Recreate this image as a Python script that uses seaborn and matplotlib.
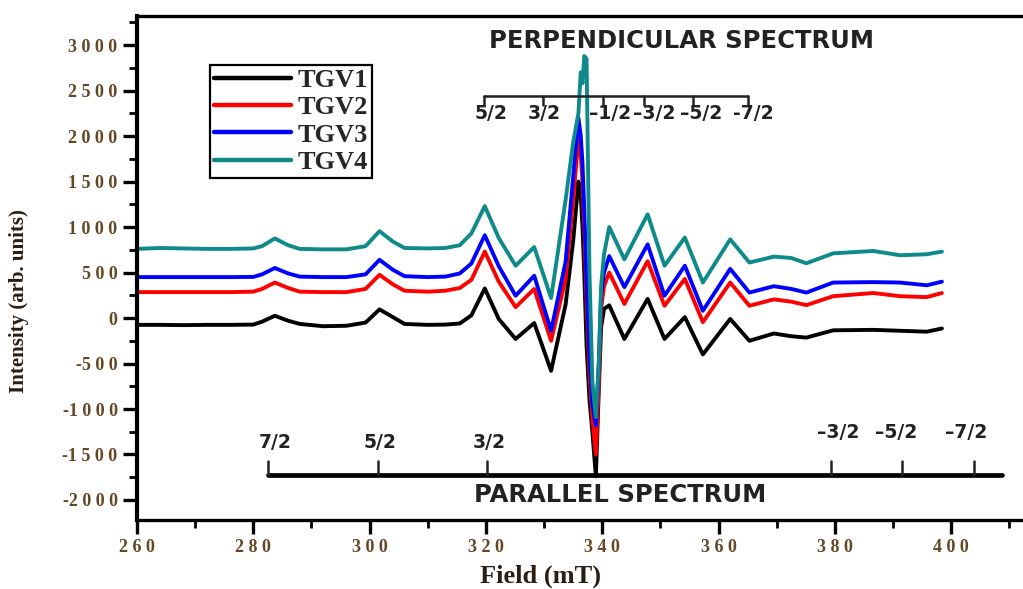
import matplotlib
matplotlib.use('Agg')
import matplotlib.pyplot as plt
from matplotlib.ticker import MultipleLocator, FuncFormatter
import seaborn as sns

sns.set_theme(style='white')
plt.rcParams['font.family'] = ['Liberation Serif', 'DejaVu Serif']

# EPR spectra: field in mT, intensity in arb. units
field = [260, 264, 268, 272, 276, 280, 281.5, 283.7, 286, 288, 292, 296, 299.3, 301.7,
         304, 306, 310, 313, 315.5, 317.5, 319.8, 322.2, 325.1, 328.3, 331.2, 333.7,
         335.0, 335.9, 336.3, 336.6, 336.9, 337.3, 337.8, 338.3, 338.9, 339.4, 339.8,
         340.3, 341.2, 343.8, 347.8, 350.7, 354.2, 357.3, 362.0, 365.3, 369.5, 372.5,
         375.1, 379.7, 386.6, 391.2, 395.8, 398.4]

tgv1 = [-75, -75, -78, -75, -75, -72, -40, 25, -30, -65, -90, -85, -50, 95,
        10, -65, -75, -72, -60, 30, 325, -10, -230, -55, -580, 150,
        850, 1500, 1350, 1000, 500, -300, -900, -1250, -1740, -800, -100,
        100, 140, -230, 210, -230, 10, -400, -10, -250, -170, -200,
        -215, -135, -130, -140, -150, -115]

tgv2 = [285, 285, 285, 285, 285, 290, 320, 390, 330, 290, 285, 285, 320, 475,
        370, 300, 290, 300, 330, 420, 730, 400, 120, 320, -250, 430,
        1300, 1980, 1800, 1500, 1000, 200, -600, -1100, -1500, -700, 100,
        350, 500, 155, 625, 135, 430, -45, 390, 135, 205, 180,
        142, 240, 275, 240, 230, 275]

tgv3 = [450, 450, 450, 450, 450, 452, 480, 550, 490, 455, 450, 450, 480, 640,
        530, 460, 450, 455, 490, 600, 910, 570, 245, 465, -140, 620,
        1550, 2200, 2000, 1700, 1200, 400, -400, -950, -1180, -500, 250,
        500, 680, 340, 810, 245, 575, 80, 540, 280, 350, 320,
        280, 390, 395, 390, 360, 400]

tgv4 = [760, 770, 765, 760, 760, 765, 790, 875, 800, 760, 755, 755, 790, 955,
        840, 770, 765, 770, 800, 930, 1230, 880, 575, 780, 220, 1300,
        1930, 2250, 2700, 2580, 2880, 2850, 500, -700, -1090, -500, 355,
        700, 1000, 645, 1140, 575, 885, 390, 865, 610, 675, 660,
        602, 711, 737, 690, 701, 730]

series = {'TGV1': tgv1, 'TGV2': tgv2, 'TGV3': tgv3, 'TGV4': tgv4}
colors = {'TGV1': 'black', 'TGV2': '#ff0000', 'TGV3': '#0000ff', 'TGV4': '#0f8a8a'}

# hyperfine line positions (mT) marked on the two stick diagrams
perp_ticks = [319.7, 329.8, 340.1, 347.1, 355.6, 365.1]
perp_label_x = [320.8, 330.0, 341.3, 348.9, 357.0, 366.0]
perp_labels = ['5/2', '3/2', '\u20131/2', '\u20133/2', '\u20135/2', '-7/2']
par_ticks = [282.6, 301.4, 320.2, 379.4, 391.5, 404.0]
par_label_x = [283.8, 301.8, 320.6, 380.6, 390.6, 402.6]
par_labels = ['7/2', '5/2', '3/2', '\u20133/2', '\u20135/2', '\u20137/2']

fig = plt.figure(figsize=(10.23, 5.89), dpi=100)
ax = fig.add_axes([137/1023, 69/589, 884/1023, 504/589])

for name, vals in series.items():
    sns.lineplot(x=field, y=vals, ax=ax, color=colors[name], lw=2.8,
                 label=name, sort=False, estimator=None)

ax.set_xlim(260, 412)
ax.set_ylim(-2220, 3320)
ax.xaxis.set_major_locator(MultipleLocator(20))
ax.xaxis.set_minor_locator(MultipleLocator(10))
ax.yaxis.set_major_locator(MultipleLocator(500))
ax.yaxis.set_minor_locator(MultipleLocator(250))

# the original labels are printed with wide letter spacing
spaced = FuncFormatter(lambda v, p: ('-' if v < 0 else '') + ' '.join(str(abs(int(v)))))
ax.xaxis.set_major_formatter(spaced)
ax.yaxis.set_major_formatter(spaced)

tick_col = '#654724'
ax.tick_params(which='major', direction='out', length=10, width=2.4,
               colors='black', labelcolor=tick_col, labelsize=13, pad=4)
ax.tick_params(which='minor', direction='out', length=6, width=2.0, colors='black')
ax.tick_params(axis='x', which='both', bottom=True)
ax.tick_params(axis='y', which='both', left=True)
for lab in ax.get_xticklabels() + ax.get_yticklabels():
    lab.set_fontweight('bold')

for side in ['left', 'bottom', 'top']:
    ax.spines[side].set_color('black')
ax.spines['left'].set_linewidth(3)
ax.spines['bottom'].set_linewidth(2.4)
ax.spines['top'].set_linewidth(2.4)
ax.spines['right'].set_visible(False)

ax.set_xlabel('Field (mT)', fontsize=19, fontweight='bold', color='#2b1d12')
ax.xaxis.set_label_coords(0.456, -0.088)
ax.set_ylabel('Intensity (arb. units)', fontsize=15, fontweight='bold', color='#2b1d12')
ax.yaxis.set_label_coords(-0.122, 0.435)

leg = ax.legend(loc='upper left', bbox_to_anchor=(0.083, 0.903), frameon=True,
                fancybox=False, edgecolor='black', framealpha=1,
                prop={'family': 'Liberation Serif', 'weight': 'bold', 'size': 19},
                handlelength=2.9, handletextpad=0.25, labelspacing=0.14,
                borderpad=0.15, borderaxespad=0)
leg.get_frame().set_linewidth(1.6)
for h in leg.get_lines():
    h.set_linewidth(3.2)

sans = ['DejaVu Sans', 'Liberation Sans']
ink = '#222222'

# perpendicular stick diagram
ax.plot([perp_ticks[0], perp_ticks[-1]], [2442, 2442], color=ink, lw=1.8)
for x in perp_ticks:
    ax.plot([x, x], [2442, 2340], color=ink, lw=1.8)
for x, t in zip(perp_label_x, perp_labels):
    ax.text(x, 2245, t, ha='center', va='center', fontsize=13.5, fontweight='bold',
            family=sans, color=ink)
ax.text(353.6, 3040, 'PERPENDICULAR SPECTRUM', ha='center', va='center', fontsize=17.5,
        fontweight='bold', family=sans, color=ink)

# parallel stick diagram
ax.plot([par_ticks[0], 408.8], [-1720, -1720], color='black', lw=3.4)
for x in par_ticks:
    ax.plot([x, x], [-1720, -1570], color=ink, lw=1.8)
for x, t in zip(par_label_x, par_labels):
    yy = -1260 if t.startswith('\u2013') else -1365
    ax.text(x, yy, t, ha='center', va='center', fontsize=13.5, fontweight='bold',
            family=sans, color=ink)
ax.text(343.1, -1940, 'PARALLEL SPECTRUM', ha='center', va='center', fontsize=17.5,
        fontweight='bold', family=sans, color=ink)

fig.savefig('out.png', dpi=100)
